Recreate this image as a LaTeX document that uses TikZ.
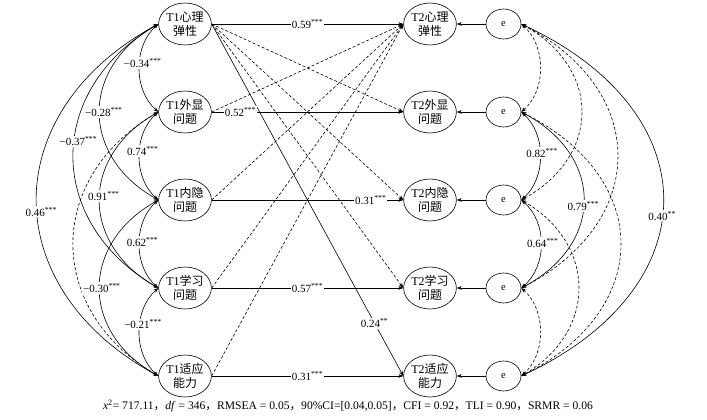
\documentclass[tikz,border=0pt]{standalone}
\usepackage{fontspec}
\setmainfont{Liberation Serif}
\newfontfamily\cjk{Noto Sans CJK SC}
\usetikzlibrary{arrows.meta,shapes.geometric}
\newcommand{\zh}[1]{{\cjk #1}}
\newcommand{\sig}[1]{\textsuperscript{#1}}
\begin{document}
\begin{tikzpicture}[x=1pt,y=-1pt,
  latent/.style={draw, ellipse, line width=0.6pt, minimum width=47pt, minimum height=42pt, inner sep=0pt, align=center, font=\fontsize{12}{14}\selectfont},
  errnode/.style={draw, ellipse, line width=0.6pt, minimum width=35pt, minimum height=30pt, inner sep=0pt, font=\fontsize{10.5}{12}\selectfont},
  tipa/.tip={Stealth[length=5pt,width=3.6pt]},
  spath/.style={-tipa, line width=0.6pt},
  dpath/.style={spath, dash pattern=on 3pt off 2pt},
  cov/.style={tipa-tipa, line width=0.6pt},
  covd/.style={cov, dash pattern=on 3pt off 2pt},
  lab/.style={fill=white, inner sep=1pt, font=\fontsize{11}{12}\selectfont}]
\useasboundingbox (0,0) rectangle (707,420);
% T1 nodes
\node[latent] (a1) at (185,24)  {T1\zh{心理}\\\zh{弹性}};
\node[latent] (a2) at (185,112) {T1\zh{外显}\\\zh{问题}};
\node[latent] (a3) at (185,200) {T1\zh{内隐}\\\zh{问题}};
\node[latent] (a4) at (185,288) {T1\zh{学习}\\\zh{问题}};
\node[latent] (a5) at (185,376) {T1\zh{适应}\\\zh{能力}};
% T2 nodes
\node[latent] (b1) at (430,24)  {T2\zh{心理}\\\zh{弹性}};
\node[latent] (b2) at (430,112) {T2\zh{外显}\\\zh{问题}};
\node[latent] (b3) at (430,200) {T2\zh{内隐}\\\zh{问题}};
\node[latent] (b4) at (430,288) {T2\zh{学习}\\\zh{问题}};
\node[latent] (b5) at (430,376) {T2\zh{适应}\\\zh{能力}};
% error nodes
\node[errnode] (e1) at (503.5,24)  {e};
\node[errnode] (e2) at (503.5,112) {e};
\node[errnode] (e3) at (503.5,200) {e};
\node[errnode] (e4) at (503.5,288) {e};
\node[errnode] (e5) at (503.5,376) {e};
% dashed cross-lagged paths
\draw[dpath] (a1.east) -- (b2.west);
\draw[dpath] (a1.east) -- (b3.west);
\draw[dpath] (a1.east) -- (b4.west);
\draw[dpath] (a2.east) -- (b1.west);
\draw[dpath] (a3.east) -- (b1.west);
\draw[dpath] (a4.east) -- (b1.west);
\draw[dpath] (a5.east) -- (b1.west);
% error paths
\foreach \i in {1,...,5} {\draw[spath] (e\i.west) -- (b\i.east);}
% dashed covariances
\draw[covd] (a2.west) .. controls +(-113,66) and +(-113,-66) .. (a5.west);
\draw[covd] (e1.east) .. controls +(25,22) and +(25,-22) .. (e2.east);
\draw[covd] (e4.east) .. controls +(25,22) and +(25,-22) .. (e5.east);
\draw[covd] (e1.east) .. controls +(80,44) and +(80,-44) .. (e3.east);
\draw[covd] (e3.east) .. controls +(76,44) and +(76,-44) .. (e5.east);
\draw[covd] (e1.east) .. controls +(128,66) and +(128,-66) .. (e4.east);
\draw[covd] (e2.east) .. controls +(132,66) and +(132,-66) .. (e5.east);
% solid paths with labels
\draw[spath] (a1.east) -- (b5.west) node[lab,pos=0.85] {0.24\sig{**}};
\draw[spath] (a1.east) -- (b1.west) node[lab,pos=0.5] {0.59\sig{***}};
\draw[spath] (a2.east) -- (b2.west) node[lab,pos=0.15] {0.52\sig{***}};
\draw[spath] (a3.east) -- (b3.west) node[lab,pos=0.83] {0.31\sig{***}};
\draw[spath] (a4.east) -- (b4.west) node[lab,pos=0.5] {0.57\sig{***}};
\draw[spath] (a5.east) -- (b5.west) node[lab,pos=0.5] {0.31\sig{***}};
% left covariances
\draw[cov] (a1.west) .. controls +(-162,88) and +(-162,-88) .. (a5.west) node[lab,pos=0.53,xshift=4pt] {0.46\sig{***}};
\draw[cov] (a1.west) .. controls +(-113,66) and +(-113,-66) .. (a4.west) node[lab,pos=0.45,xshift=4pt] {−0.37\sig{***}};
\draw[cov] (a1.west) .. controls +(-78,44) and +(-78,-44) .. (a3.west) node[lab,pos=0.5,xshift=4pt] {−0.28\sig{***}};
\draw[cov] (a2.west) .. controls +(-78,44) and +(-78,-44) .. (a4.west) node[lab,pos=0.48,xshift=4pt] {0.91\sig{***}};
\draw[cov] (a3.west) .. controls +(-78,44) and +(-78,-44) .. (a5.west) node[lab,pos=0.5,xshift=2pt] {−0.30\sig{***}};
\draw[cov] (a1.west) .. controls +(-25,22) and +(-25,-22) .. (a2.west) node[lab,pos=0.45,xshift=3pt] {−0.34\sig{***}};
\draw[cov] (a2.west) .. controls +(-25,22) and +(-25,-22) .. (a3.west) node[lab,pos=0.45,xshift=3pt] {0.74\sig{***}};
\draw[cov] (a3.west) .. controls +(-25,22) and +(-25,-22) .. (a4.west) node[lab,pos=0.48,xshift=3pt] {0.62\sig{***}};
\draw[cov] (a4.west) .. controls +(-25,22) and +(-25,-22) .. (a5.west) node[lab,pos=0.42,xshift=3pt] {−0.21\sig{***}};
% right covariances (solid)
\draw[cov] (e1.east) .. controls +(189,88) and +(189,-88) .. (e5.east) node[lab,pos=0.54] {0.40\sig{**}};
\draw[cov] (e2.east) .. controls +(83,44) and +(83,-44) .. (e4.east) node[lab,pos=0.53] {0.79\sig{***}};
\draw[cov] (e2.east) .. controls +(25,22) and +(25,-22) .. (e3.east) node[lab,pos=0.47,xshift=2pt] {0.82\sig{***}};
\draw[cov] (e3.east) .. controls +(26,22) and +(26,-22) .. (e4.east) node[lab,pos=0.49,xshift=2pt] {0.64\sig{***}};
% fit indices
\node (fit) at (348,406) {\fontsize{11.6}{13}\selectfont \textit{x}\textsuperscript{2}= 717.11\zh{，}\textit{df} = 346\zh{，}RMSEA = 0.05\zh{，}90\%CI=[0.04,0.05]\zh{，}CFI = 0.92\zh{，}TLI = 0.90\zh{，}SRMR = 0.06};
\end{tikzpicture}
\end{document}
